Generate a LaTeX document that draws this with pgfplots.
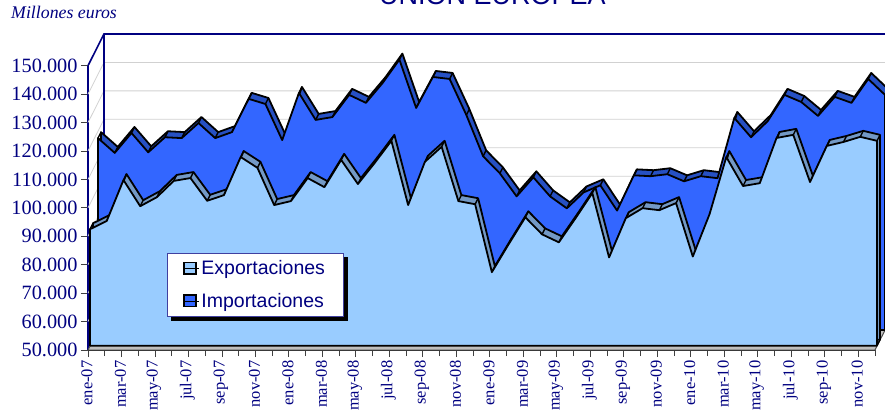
\documentclass[border=0pt]{standalone}
\usepackage{pgfplots}
\pgfplotsset{compat=1.18}
\usepackage{pgfplotstable}
\usepackage{fontspec}
\setmainfont{Liberation Serif}
\newfontfamily\arial{Liberation Sans}
\definecolor{navytxt}{RGB}{0,0,128}
\definecolor{expfront}{RGB}{153,204,255}
\definecolor{expside}{RGB}{115,153,198}
\definecolor{impfront}{RGB}{51,102,255}
\definecolor{impside}{RGB}{38,80,195}

% month, value (first and last rows close the area on the floor)
\pgfplotstableread{
m v
0 50000
0 91000
1 93900
2 108300
3 99100
4 102300
5 108000
6 109000
7 101000
8 103000
9 116400
10 112600
11 99500
12 100900
13 109000
14 105800
15 115400
16 106900
17 114300
18 122100
19 99500
20 114700
21 120000
22 100900
23 99800
24 75900
25 85700
26 95200
27 89200
28 86400
29 94900
30 103700
31 81100
32 94900
33 98400
34 97700
35 100200
36 81400
37 96300
38 116400
39 106200
40 107200
41 123100
42 124200
43 107600
44 120300
45 121700
46 123500
47 122100
47 50000
}\exportaciones

\pgfplotstableread{
m v
0 50000
0 117500
1 112300
2 119300
3 112500
4 117800
5 117500
6 122800
7 117500
8 119600
9 131300
10 129500
11 116800
12 133400
13 123900
14 124900
15 132700
16 129900
17 136900
18 145100
19 128100
20 139000
21 138300
22 125600
23 111100
24 105100
25 97000
26 103700
27 97000
28 92800
29 98400
30 100900
31 92000
32 104400
33 104100
34 104800
35 102300
36 104100
37 103400
38 124600
39 117800
40 123500
41 132700
42 130200
43 125300
44 132000
45 129900
46 138300
47 132700
47 50000
}\importaciones

% depth of one ribbon, and where each series stands in the box
\def\ribx{0.179}
\def\riby{2110}
\def\expx{0.119}
\def\expy{1477}
\def\impx{0.597}
\def\impy{7034}

\begin{document}
\begin{tikzpicture}[x=1pt,y=1pt]
\path[use as bounding box,clip] (0,0) rectangle (885,415);
\node[anchor=base,text=navytxt,font=\arial\fontsize{27}{27}\selectfont] at (492.5,410) {UNION EUROPEA};
\node[anchor=base west,text=navytxt,inner sep=0pt,font=\itshape\fontsize{17.8}{17.8}\selectfont] at (11,396) {Millones euros};
\begin{axis}[
  at={(88pt,65pt)},anchor=south west,
  scale only axis,width=787pt,height=284.3pt,
  xmin=0,xmax=47,ymin=50000,ymax=150000,
  clip=false,
  axis x line=bottom,axis y line=left,
  axis line style={-},
  x axis line style={black,line width=1.4pt},
  y axis line style={navytxt,line width=1.4pt},
  tick align=outside,
  major tick length=7pt,minor tick length=6pt,
  tick style={black!75,line width=0.9pt},
  ytick={50000,60000,...,150000},
  minor y tick num=0,
  xtick={0,2,...,46},
  minor xtick={1,3,...,47},
  xticklabels={ene-07,mar-07,may-07,jul-07,sep-07,nov-07,ene-08,mar-08,may-08,jul-08,sep-08,nov-08,ene-09,mar-09,may-09,jul-09,sep-09,nov-09,ene-10,mar-10,may-10,jul-10,sep-10,nov-10},
  xticklabel style={rotate=90,anchor=east,text=navytxt,font=\fontsize{16.5}{16.5}\selectfont,yshift=1pt},
  yticklabel style={text=navytxt,font=\fontsize{20.3}{20.3}\selectfont,xshift=0pt,
    /pgf/number format/fixed,/pgf/number format/precision=0,
    /pgf/number format/assume math mode=true,
    /pgf/number format/1000 sep={.},
    /pgf/number format/min exponent for 1000 sep=0},
  scaled y ticks=false,
  unbounded coords=jump,
  legend style={at={(axis description cs:0.1,0.342)},anchor=north west,
    draw=navytxt!75,line width=0.9pt,fill=white,
    inner xsep=16pt,inner ysep=5.5pt,row sep=13pt,
    font=\arial\fontsize{19.5}{19.5}\selectfont,text=navytxt},
  legend cell align=left,
]
% legend swatches
\addlegendimage{legend image code/.code={\draw[fill=expfront,draw=black,line width=1.6pt] (0pt,-5.5pt) rectangle (12pt,6pt);\path (0pt,0pt) -- (15pt,0pt);}}
\addlegendentry{Exportaciones}
\addlegendimage{legend image code/.code={\draw[fill=impfront,draw=black,line width=1.6pt] (0pt,-5.5pt) rectangle (12pt,6pt);\path (0pt,0pt) -- (15pt,0pt);}}
\addlegendentry{Importaciones}

% floor and walls
\addplot[fill=black!25,draw=black!70,line width=1pt] coordinates {(0,50000) (47,50000) (47.955,61150) (0.955,61150)} -- cycle;
\addplot[black!18,line width=0.8pt] coordinates {
 (0,60000) (0.955,71150) (47.955,71150) (nan,nan)
 (0,70000) (0.955,81150) (47.955,81150) (nan,nan)
 (0,80000) (0.955,91150) (47.955,91150) (nan,nan)
 (0,90000) (0.955,101150) (47.955,101150) (nan,nan)
 (0,100000) (0.955,111150) (47.955,111150) (nan,nan)
 (0,110000) (0.955,121150) (47.955,121150) (nan,nan)
 (0,120000) (0.955,131150) (47.955,131150) (nan,nan)
 (0,130000) (0.955,141150) (47.955,141150) (nan,nan)
 (0,140000) (0.955,151150) (47.955,151150)};
\addplot[navytxt,line width=1.6pt] coordinates {(0,150000) (0.955,161150) (47.955,161150)};
\addplot[navytxt,line width=1.6pt] coordinates {(0.955,161150) (0.955,61150)};

% importaciones: ribbon behind, then the front plate
\addplot[fill=impside,draw=black,line width=1.8pt,line join=round] table[x expr=\thisrow{m}+\impx+\ribx,y expr=\thisrow{v}+\impy+\riby] {\importaciones} -- cycle;
\addplot[black,line width=1.4pt,quiver={u=\ribx,v=\riby}] table[x expr=\thisrow{m}+\impx,y expr=\thisrow{v}+\impy] {\importaciones};
\addplot[fill=impfront,draw=black,line width=1.8pt,line join=round] table[x expr=\thisrow{m}+\impx,y expr=\thisrow{v}+\impy] {\importaciones} -- cycle;

% exportaciones
\addplot[fill=expside,draw=black,line width=1.8pt,line join=round] table[x expr=\thisrow{m}+\expx+\ribx,y expr=\thisrow{v}+\expy+\riby] {\exportaciones} -- cycle;
\addplot[black,line width=1.4pt,quiver={u=\ribx,v=\riby}] table[x expr=\thisrow{m}+\expx,y expr=\thisrow{v}+\expy] {\exportaciones};
\addplot[fill=expfront,draw=black,line width=1.8pt,line join=round] table[x expr=\thisrow{m}+\expx,y expr=\thisrow{v}+\expy] {\exportaciones} -- cycle;

% legend's shadow
\addplot[fill=black,draw=none] coordinates {(4.97,82640) (15.53,82640) (15.53,60200) (4.97,60200)} -- cycle;
\end{axis}
\end{tikzpicture}
\end{document}
